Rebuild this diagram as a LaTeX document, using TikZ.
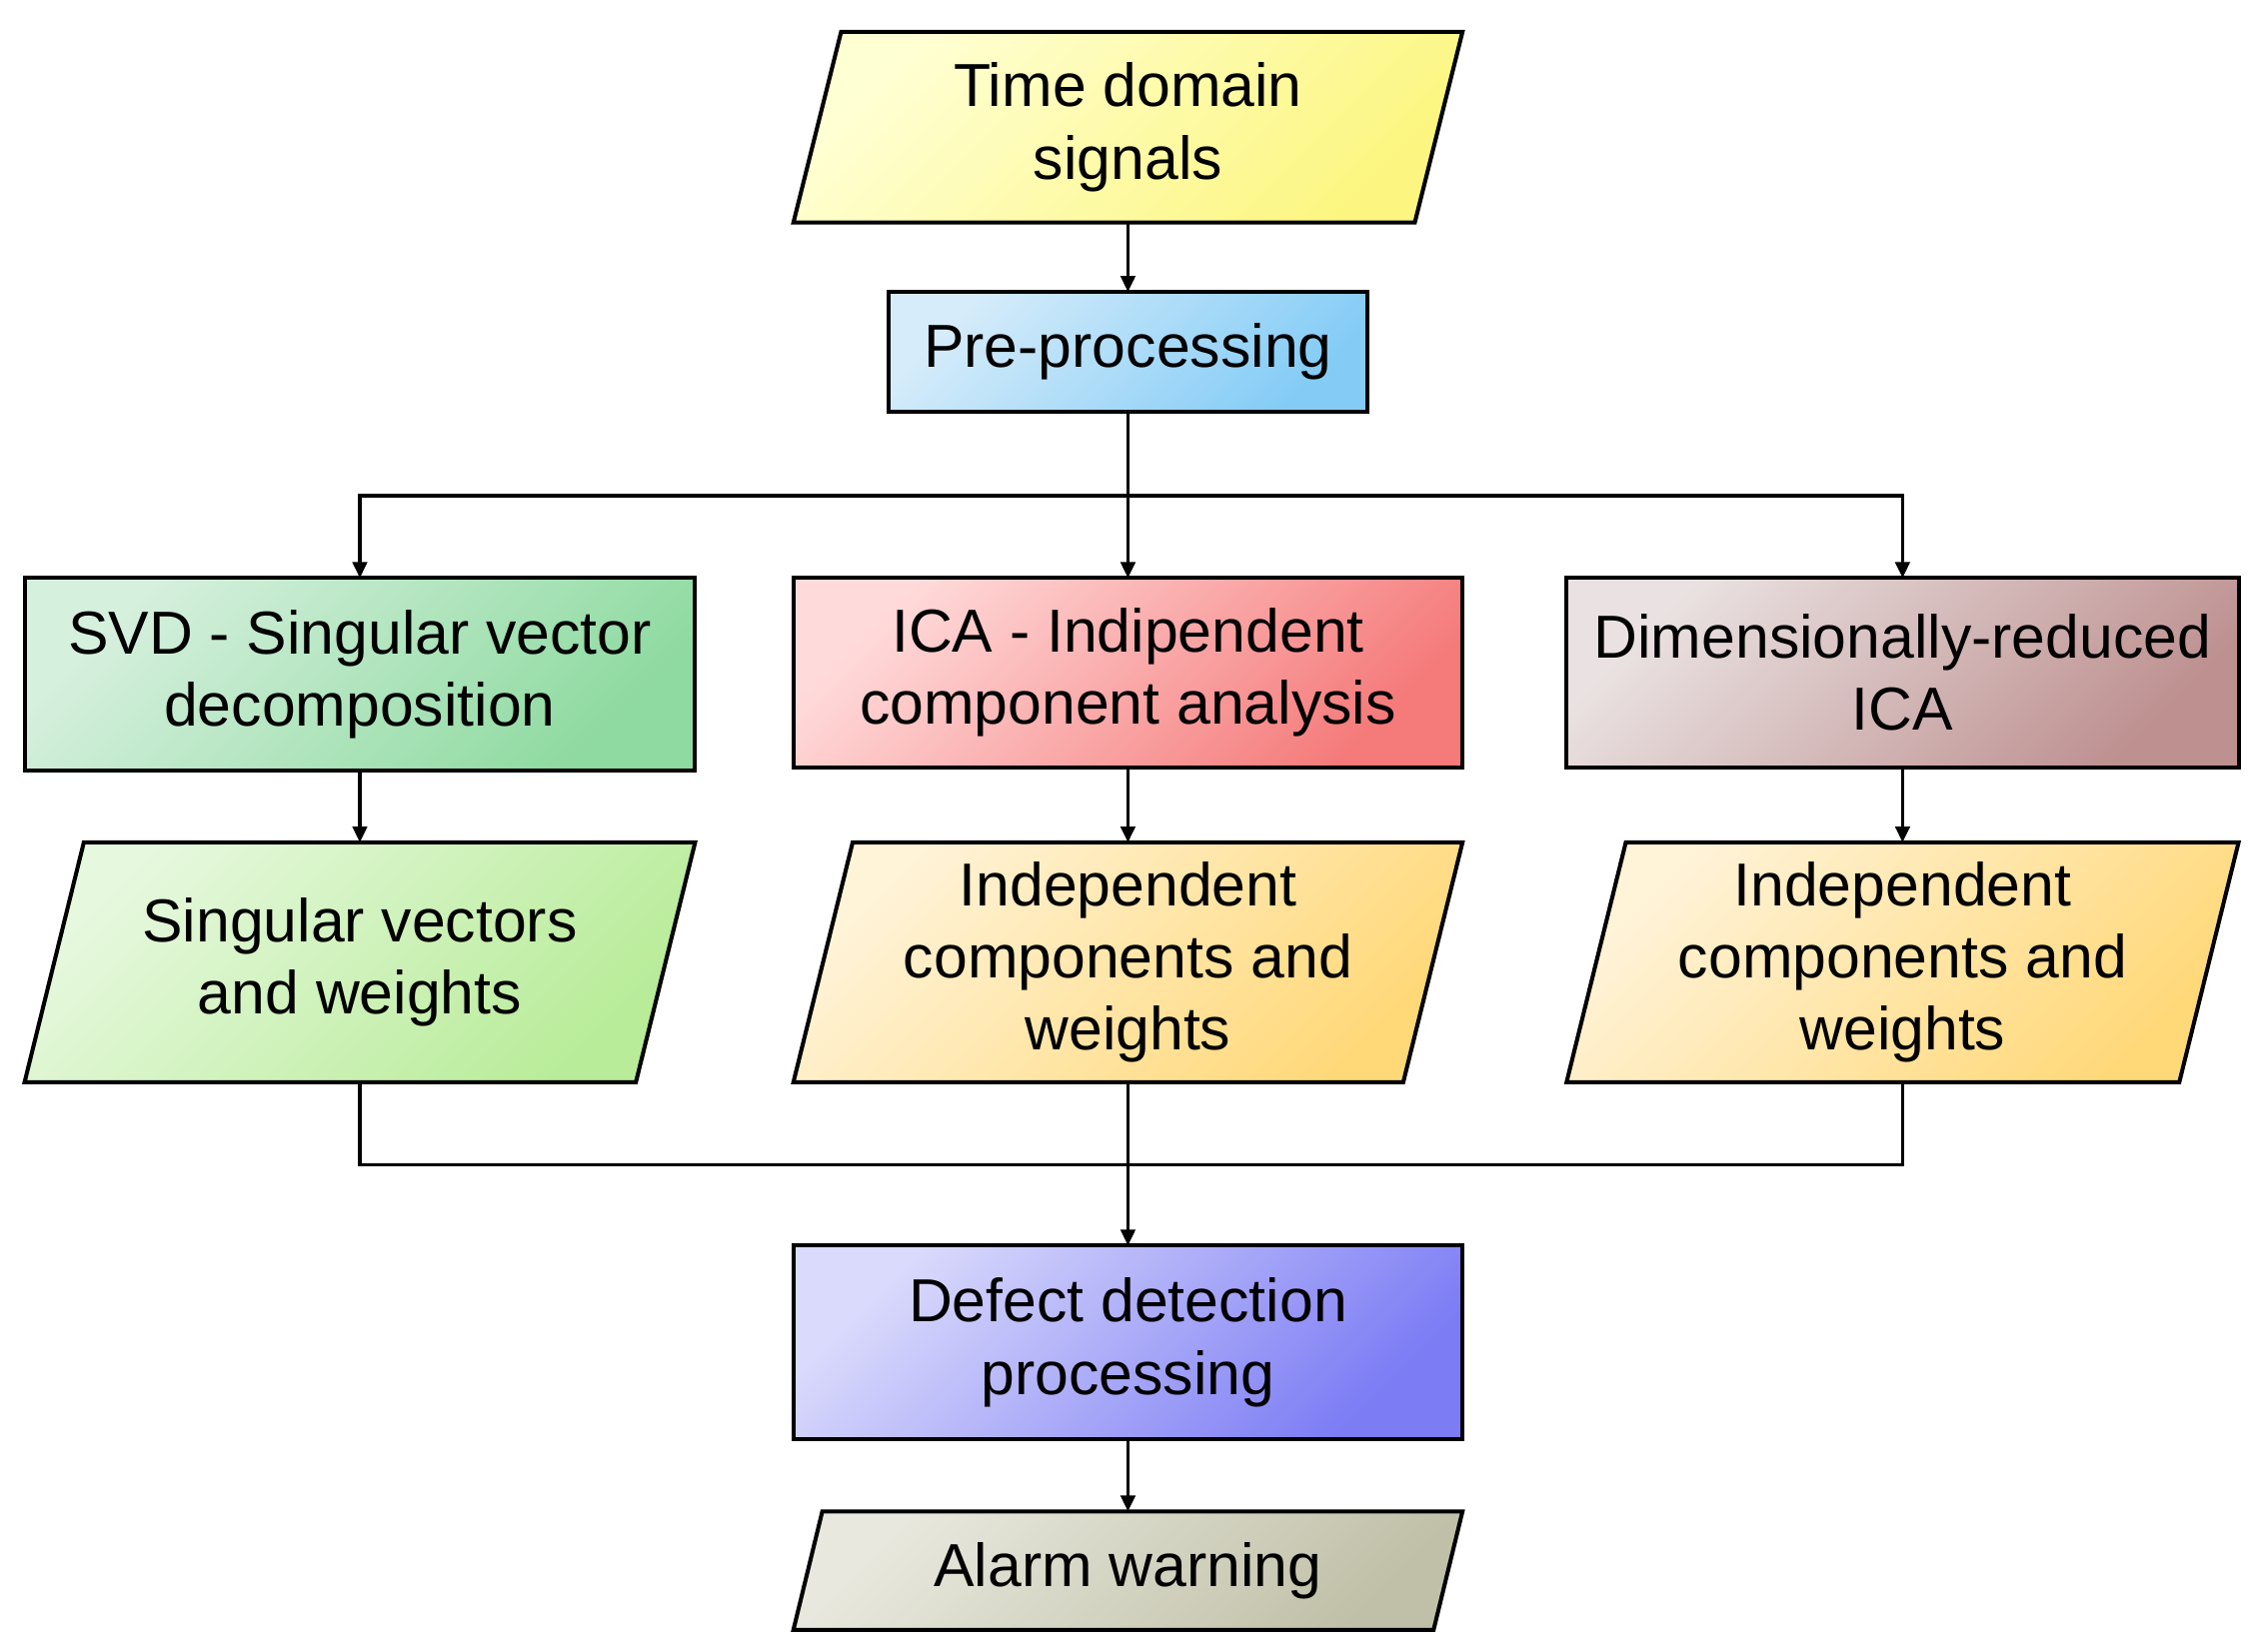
\documentclass[tikz,border=0pt]{standalone}
\usepackage{fontspec}
\setmainfont{Liberation Sans}
\usetikzlibrary{arrows.meta,backgrounds}
\definecolor{tdA}{RGB}{255,255,212}\definecolor{tdB}{RGB}{252,246,128}
\definecolor{ppA}{RGB}{214,236,250}\definecolor{ppB}{RGB}{132,204,246}
\definecolor{svdA}{RGB}{214,240,222}\definecolor{svdB}{RGB}{142,218,160}
\definecolor{icaA}{RGB}{255,218,218}\definecolor{icaB}{RGB}{245,122,122}
\definecolor{dimA}{RGB}{234,226,226}\definecolor{dimB}{RGB}{190,144,144}
\definecolor{svA}{RGB}{230,248,222}\definecolor{svB}{RGB}{184,236,152}
\definecolor{icA}{RGB}{255,243,216}\definecolor{icB}{RGB}{255,216,120}
\definecolor{dfA}{RGB}{218,218,252}\definecolor{dfB}{RGB}{124,124,245}
\definecolor{alA}{RGB}{232,232,222}\definecolor{alB}{RGB}{192,192,168}
\tikzset{
  base/.style={inner sep=0pt, outer sep=0pt, align=center,
    font=\fontsize{42}{50}\selectfont},
  outline/.style={draw=black, line width=2.8pt, line join=miter},
  grad/.style 2 args={top color=#1, bottom color=#2, shading angle=45},
  boxnode/.style={base, outline, shape=rectangle},
  datanode/.style={base, shape=rectangle},
  conn/.style={line width=2.2pt, draw=black},
  arr/.style={conn, -{Triangle[length=11pt,width=10pt]}},
}
% parallelogram drawn round a named rectangle node: #1 name, #2 half slant, #3/#4 colours
\newcommand\pgramshape[4]{%
  \path[outline, grad={#3}{#4}] ([xshift=#2]#1.north west) -- ([xshift=#2]#1.north east)
    -- ([xshift=-#2]#1.south east) -- ([xshift=-#2]#1.south west) -- cycle;}
\begin{document}
\begin{tikzpicture}[x=1pt,y=-1pt]
\useasboundingbox (0,0) rectangle (1568,1143);
\node[datanode, minimum width=430, minimum height=132] (td) at (780.5,88) {Time domain\\signals};
\node[boxnode, grad={ppA}{ppB}, minimum width=331, minimum height=83] (pre) at (780.5,243.5) {Pre-processing};
\node[boxnode, grad={svdA}{svdB}, minimum width=464, minimum height=133] (svd) at (249,466.5) {SVD - Singular vector\\decomposition};
\node[boxnode, grad={icaA}{icaB}, minimum width=463, minimum height=131] (ica) at (780.5,465.5) {ICA - Indipendent\\component analysis};
\node[boxnode, grad={dimA}{dimB}, minimum width=465, minimum height=131] (dim) at (1316.5,465.5) {Dimensionally-reduced\\ICA};
\node[datanode, minimum width=423, minimum height=166] (sv) at (249,666) {Singular vectors\\and weights};
\node[datanode, minimum width=422, minimum height=166] (ic1) at (780.5,666) {Independent\\components and\\weights};
\node[datanode, minimum width=424, minimum height=166] (ic2) at (1316.5,666) {Independent\\components and\\weights};
\node[boxnode, grad={dfA}{dfB}, minimum width=463, minimum height=134] (def) at (780.5,929) {Defect detection\\processing};
\node[datanode, minimum width=443, minimum height=82] (al) at (780.5,1087) {Alarm warning};
\begin{pgfonlayer}{background}
\pgramshape{td}{16.5}{tdA}{tdB}
\pgramshape{sv}{20.5}{svA}{svB}
\pgramshape{ic1}{20.5}{icA}{icB}
\pgramshape{ic2}{20.5}{icA}{icB}
\pgramshape{al}{10}{alA}{alB}
\end{pgfonlayer}
\coordinate (sp) at (780.5,343);
\coordinate (mg) at (780.5,806);
\draw[arr] (td.south) -- (pre.north);
\draw[arr] (pre.south) -- (ica.north);
\draw[arr] (sp) -| (svd.north);
\draw[arr] (sp) -| (dim.north);
\draw[arr] (svd.south) -- (sv.north);
\draw[arr] (ica.south) -- (ic1.north);
\draw[arr] (dim.south) -- (ic2.north);
\draw[conn] (sv.south) |- (mg);
\draw[conn] (ic2.south) |- (mg);
\draw[arr] (ic1.south) -- (def.north);
\draw[arr] (def.south) -- (al.north);
\end{tikzpicture}
\end{document}
